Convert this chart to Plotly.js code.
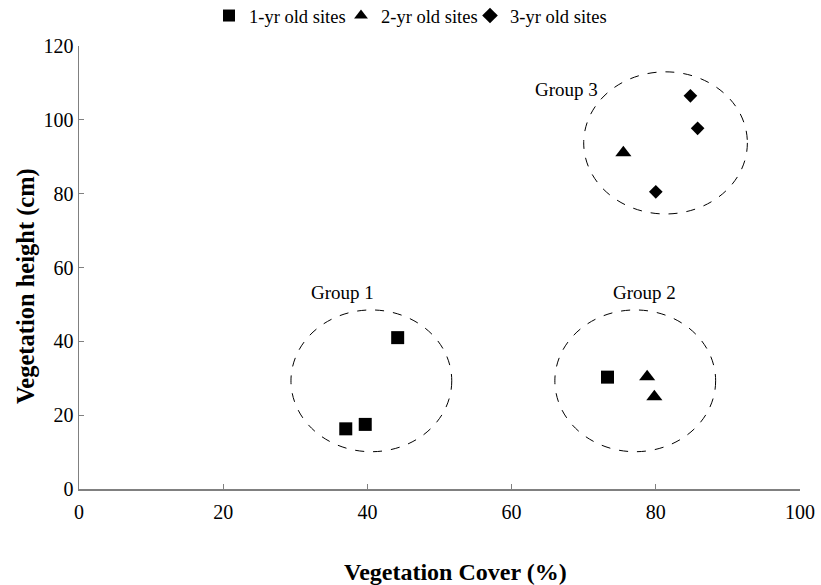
<!DOCTYPE html>
<html>
<head>
<meta charset="utf-8">
<script src="https://cdn.plot.ly/plotly-3.0.1.min.js"></script>
<style>
  html, body { margin: 0; padding: 0; background: #ffffff; }
  #chart { width: 821px; height: 585px; }
</style>
</head>
<body>
<div id="chart"></div>
<script>
// Vegetation cover (%) and height (cm) by site age
const seriesNames = ['1-yr old sites', '2-yr old sites', '3-yr old sites'];
const oneYrCover = [37.0, 39.7, 44.2, 73.3];
const oneYrHeight = [16.3, 17.5, 41.0, 30.3];
const twoYrCover = [78.8, 79.8, 75.5];
const twoYrHeight = [30.4, 25.0, 91.1];
const threeYrCover = [84.8, 85.8, 80.0];
const threeYrHeight = [106.5, 97.7, 80.5];

// Group outlines (data units) and their labels
const groupNames = ['Group 1', 'Group 2', 'Group 3'];
const groupX0 = [29.4, 66.0, 70.0];
const groupX1 = [51.7, 88.3, 92.7];
const groupY0 = [10.1, 10.1, 74.5];
const groupY1 = [48.5, 48.5, 113.0];
const labelX = [36.6, 78.5, 67.6];
const labelY = [53.1, 53.1, 108.1];

const xTitle = 'Vegetation Cover (%)';
const yTitle = 'Vegetation height (cm)';

const serif = "'Liberation Serif', 'Times New Roman', Times, serif";
const W = 821, H = 585;

// one small legend per series so each entry sits where it belongs in the top row
const legendIds = ['legend', 'legend2', 'legend3'];
const legendLeftPx = [209, 341, 470];

const traces = [
  { x: oneYrCover, y: oneYrHeight, symbol: 'square', size: 13 },
  { x: twoYrCover, y: twoYrHeight, symbol: 'triangle-up', size: 14 },
  { x: threeYrCover, y: threeYrHeight, symbol: 'diamond', size: 10.5 }
].map((t, i) => ({
  type: 'scatter',
  mode: 'markers',
  x: t.x, y: t.y, name: seriesNames[i],
  legend: legendIds[i],
  marker: { symbol: t.symbol, size: t.size, color: '#000000', line: { width: 0 } },
  cliponaxis: false
}));

const shapes = groupNames.map((g, i) => ({
  type: 'circle', xref: 'x', yref: 'y',
  x0: groupX0[i], x1: groupX1[i], y0: groupY0[i], y1: groupY1[i],
  line: { color: '#000000', width: 1, dash: 'dash' }
}));

const annotations = groupNames.map((g, i) => ({
  x: labelX[i], y: labelY[i], xref: 'x', yref: 'y',
  text: g, showarrow: false,
  font: { family: serif, size: 19, color: '#000000' }
}));

// axis titles
annotations.push({
  xref: 'paper', yref: 'paper', x: 0.5215, y: -0.187,
  xanchor: 'center', yanchor: 'middle', showarrow: false,
  text: '<b>' + xTitle + '</b>',
  font: { family: serif, size: 24, color: '#000000' }
});
annotations.push({
  xref: 'paper', yref: 'paper', x: -0.0735, y: 0.458,
  xanchor: 'center', yanchor: 'middle', showarrow: false, textangle: -90,
  text: '<b>' + yTitle + '</b>',
  font: { family: serif, size: 24.5, color: '#000000' }
});

const axisCommon = {
  showgrid: false, zeroline: false,
  showline: true, linecolor: '#808080', linewidth: 1.5,
  ticks: 'inside', ticklen: 5, tickcolor: '#808080', tickwidth: 1,
  tickfont: { family: serif, size: 20, color: '#000000' },
  automargin: false
};

const layout = {
  width: W, height: H,
  margin: { l: 79, r: 21, t: 46, b: 96 },
  paper_bgcolor: '#ffffff', plot_bgcolor: '#ffffff',
  font: { family: serif },
  showlegend: true,
  xaxis: Object.assign({}, axisCommon, {
    range: [0, 100], tickvals: [0, 20, 40, 60, 80, 100],
    ticklabelstandoff: 4
  }),
  yaxis: Object.assign({}, axisCommon, {
    range: [0, 120], tickvals: [0, 20, 40, 60, 80, 100, 120]
  }),
  shapes: shapes,
  annotations: annotations
};

legendIds.forEach((id, i) => {
  layout[id] = {
    orientation: 'h',
    xref: 'container', x: legendLeftPx[i] / W, xanchor: 'left',
    yref: 'container', y: 1 - 16 / H, yanchor: 'middle',
    font: { family: serif, size: 18.5, color: '#000000' },
    itemsizing: 'constant', bgcolor: 'rgba(0,0,0,0)', borderwidth: 0
  };
});

Plotly.newPlot('chart', traces, layout, { displayModeBar: false, staticPlot: true });
</script>
</body>
</html>
